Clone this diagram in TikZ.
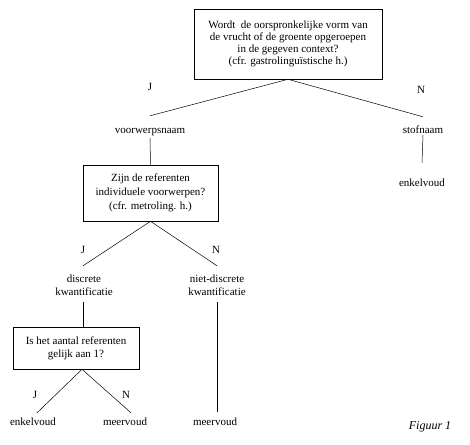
\documentclass[tikz,border=0pt]{standalone}
\usepackage{fontspec}
\setmainfont{Liberation Serif}
\begin{document}
\begin{tikzpicture}[x=1pt,y=-1pt,
  every node/.style={inner sep=0pt, font=\fontsize{11pt}{12.1pt}\selectfont},
  qbox/.style={draw, line width=0.6pt, align=center},
  lbl/.style={text height=8pt, text depth=2.5pt},
  two/.style={align=center, minimum height=33pt, font=\fontsize{11pt}{13pt}\selectfont},
  conn/.style={line width=0.5pt}]
\useasboundingbox (0,0) rectangle (470,444);
% question boxes
\node[qbox, minimum width=188pt, minimum height=70pt] (q1) at (288,44)
  {Wordt\ \ de oorspronkelijke vorm van\\ de vrucht of de groente opgeroepen\\ in de gegeven context?\\ (cfr. gastrolinguïstische h.)};
\node[qbox, minimum width=135pt, minimum height=56pt, font=\fontsize{11pt}{13.7pt}\selectfont] (q2) at (150.5,193)
  {Zijn de referenten\\ individuele voorwerpen?\\ (cfr. metroling. h.)};
\node[qbox, minimum width=126pt, minimum height=42pt, font=\fontsize{11pt}{12.7pt}\selectfont] (q3) at (76,348)
  {Is het aantal referenten\\ gelijk aan 1?};
% labels
\node[lbl] (vwn) at (150,131) {voorwerpsnaam};
\node[lbl] (stof) at (423,131) {stofnaam};
\node[lbl] (enk1) at (422,184) {enkelvoud};
\node[two] (disc) at (84,285.5) {discrete\\ kwantificatie};
\node[two] (niet) at (217,285.5) {niet-discrete\\ kwantificatie};
\node[lbl] (enk2) at (33,423) {enkelvoud};
\node[lbl] (meer1) at (125,423) {meervoud};
\node[lbl] (meer2) at (215,423) {meervoud};
% answers
\node (j1) at (150,87) {J};
\node (n1) at (421,90) {N};
\node (j2) at (83,250) {J};
\node (n2) at (216,250) {N};
\node (j3) at (35,395) {J};
\node (n3) at (126,395) {N};
\node[font=\fontsize{12pt}{14pt}\selectfont\itshape] (fig) at (430,427) {Figuur 1};
% connectors
\draw[conn] (q1.south) -- ([yshift=9.75pt]vwn.north);
\draw[conn] (q1.south) -- ([yshift=8.75pt]stof.north);
\draw[conn] ([yshift=-1.75pt]vwn.south) -- (q2.north);
\draw[conn] ([yshift=1.25pt]stof.south) -- ([yshift=15.75pt]enk1.north);
\draw[conn] (q2.south) -- ([shift={(-1pt,3pt)}]disc.north);
\draw[conn] (q2.south) -- ([yshift=3pt]niet.north);
\draw[conn] ([xshift=-1pt]disc.south) -- ([xshift=7pt]q3.north);
\draw[conn] (niet.south) -- ([shift={(2pt,5.75pt)}]meer2.north);
\draw[conn] ([xshift=6pt]q3.south) -- ([shift={(4pt,4.75pt)}]enk2.north);
\draw[conn] ([xshift=6pt]q3.south) -- ([shift={(6pt,4.75pt)}]meer1.north);
\end{tikzpicture}
\end{document}
